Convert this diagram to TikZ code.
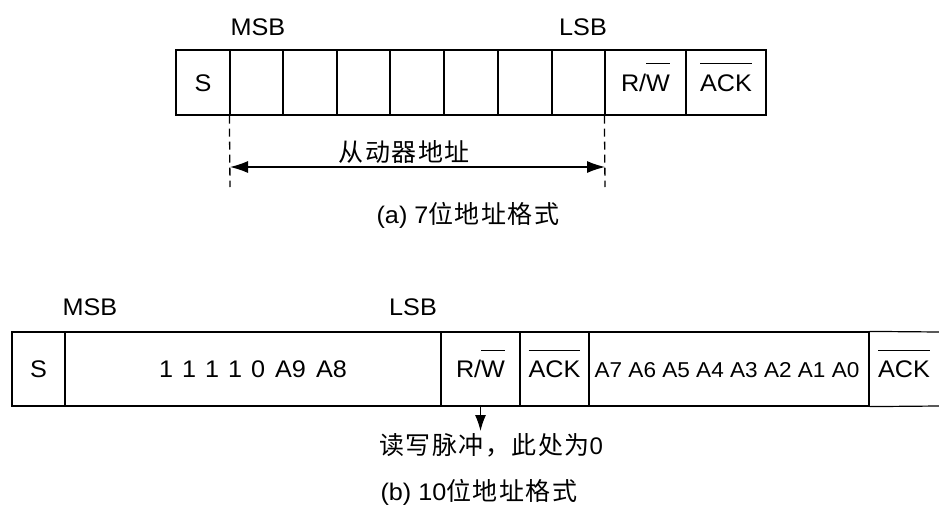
\documentclass[tikz,border=0pt]{standalone}
\usepackage{fontspec}
\setmainfont{Liberation Sans}[FakeStretch=1.05]
\newfontfamily\cjk[LetterSpace=6]{Noto Sans CJK SC}
\usetikzlibrary{arrows.meta}
\newcommand\ovl[1]{\setbox0\hbox{#1}\rlap{\smash{\rule[1.12em]{\wd0}{1.1pt}}}\box0}
\begin{document}
\begin{tikzpicture}[x=1pt,y=-1pt,
  txt/.style={inner sep=0pt,font=\fontsize{24}{28}\selectfont},
  zh/.style={inner sep=0pt,font=\fontsize{25}{29}\selectfont},
  cellbase/.style={draw,line width=1.2pt,inner sep=0pt,text height=17pt,text depth=0pt,font=\fontsize{24}{28}\selectfont},
  topcell/.style={cellbase,minimum height=65pt,minimum width=#1},
  botcell/.style={cellbase,minimum height=74pt,minimum width=#1},
  dim/.style={line width=1.3pt,dash pattern=on 8pt off 5pt},
  arr/.style={line width=1.2pt,{Latex[length=18pt,width=12pt]}-{Latex[length=18pt,width=12pt]}},
  darr/.style={line width=1.2pt,-{Latex[length=16pt,width=11pt]}}]
\useasboundingbox (0,0) rectangle (939,514);
% ---- (a) 7-bit address
\node[topcell=54pt] (t0) at (203,82.5) {S};
\node[topcell=53pt] (t1) at (256.5,82.5) {};
\node[topcell=54pt] (t2) at (310,82.5) {};
\node[topcell=53pt] (t3) at (363.5,82.5) {};
\node[topcell=54pt] (t4) at (417,82.5) {};
\node[topcell=54pt] (t5) at (471,82.5) {};
\node[topcell=54pt] (t6) at (525,82.5) {};
\node[topcell=53pt] (t7) at (578.5,82.5) {};
\node[topcell=81pt] (t8) at (645.5,82.5) {R/\ovl{W}};
\node[topcell=80pt] (t9) at (726,82.5) {\ovl{ACK}};
\node[txt] (msbA) at (258,27) {MSB};
\node[txt] (lsbA) at (583,27) {LSB};
\coordinate (d1e) at (230,187);
\coordinate (d2e) at (605,187);
\draw[dim] (t1.south west) -- (d1e);
\draw[dim] (t8.south west) -- (d2e);
\coordinate (a1) at (230,167);
\coordinate (a2) at (605,167);
\draw[arr] (a1) -- (a2);
\node[zh] (slave) at (404,152) {\cjk 从动器地址};
\node[txt] (capA) at (468,215) {(a) 7{\cjk\fontsize{25}{29}\selectfont 位地址格式}};
% ---- (b) 10-bit address
\node[botcell=53pt] (b0) at (38.5,369) {S};
\node[botcell=376pt] (b1) at (253,369) {1\hspace{9pt}1\hspace{9pt}1\hspace{9pt}1\hspace{9pt}0\hspace{10pt}A9\hspace{10pt}A8};
\node[botcell=79pt] (b2) at (480.5,369) {R/\ovl{W}};
\node[botcell=69pt] (b3) at (554.5,369) {\ovl{ACK}};
\node[botcell=280pt,font=\fontsize{21.5}{25}\selectfont] (b4) at (729,369) {\hspace{-4pt}A7 A6 A5 A4 A3 A2 A1 A0};
\node[cellbase,draw=none,minimum height=74pt,minimum width=70pt] (b5) at (904,369) {\ovl{ACK}};
\coordinate (b5ne) at (939,332);
\coordinate (b5se) at (939,406);
\draw[line width=1.2pt] (b4.north east) -- (b5ne);
\draw[line width=1.2pt] (b4.south east) -- (b5se);
\node[txt] (msbB) at (90,307) {MSB};
\node[txt] (lsbB) at (413,307) {LSB};
\node[zh] (rw) at (491,445) {\cjk 读写脉冲，此处为\fontspec{Liberation Sans}\fontsize{24}{28}\selectfont 0};
\coordinate (rwtip) at (480.5,431);
\draw[darr] (b2.south) -- (rwtip);
\node[txt] (capB) at (479,492) {(b) 10{\cjk\fontsize{25}{29}\selectfont 位地址格式}};
\end{tikzpicture}
\end{document}
